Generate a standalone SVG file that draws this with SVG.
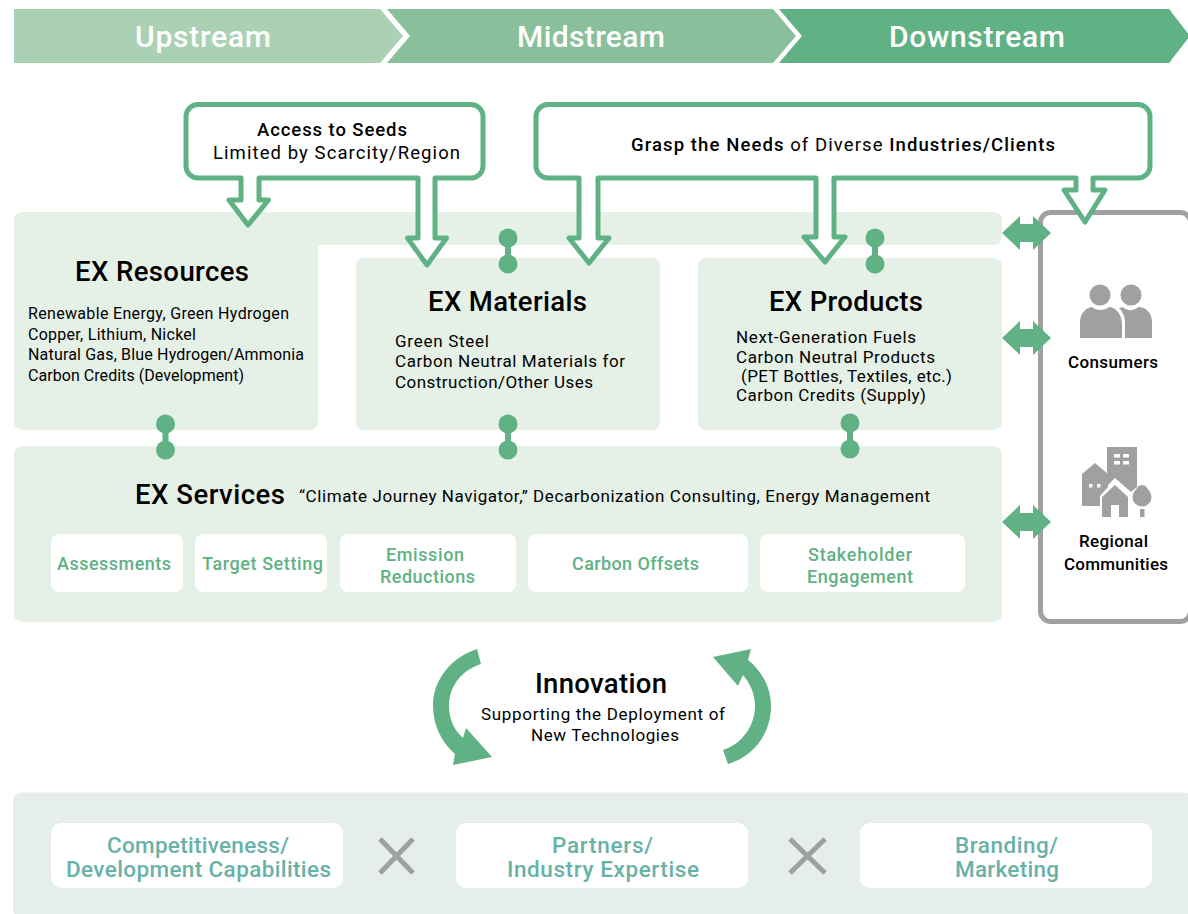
<svg xmlns="http://www.w3.org/2000/svg" width="1188" height="914" viewBox="0 0 1188 914">
<style>
text{font-family:"Roboto","Liberation Sans",sans-serif;fill:#000;font-size:16px}
.c{text-anchor:middle}
.b{font-weight:500}
.m{font-size:17px}
.l{font-size:18.500px}
.ch{fill:#fff;font-size:30px;font-weight:500;text-anchor:middle}
.h{font-size:27.500px;font-weight:500}
.g{fill:#60b184;font-size:18px;font-weight:500;text-anchor:middle}
.t{fill:#69b1a7;font-size:22.500px;font-weight:500;text-anchor:middle}
.p{fill:#e5f0e7}
.w{fill:#fff}
.co{fill:#fff;stroke:#60b184;stroke-width:5;stroke-linejoin:round}
.d{fill:#60b184;stroke:none}
.gr{fill:#9fa0a0}
</style>
<g id="chevrons">
<path fill="#abd1b5" d="M14 9H380L403 36 380 63H14Z"/>
<path fill="#89c09b" d="M387 9H773L796 36 773 63H387L410 36Z"/>
<path fill="#60b184" d="M779 9H1169L1190 36 1169 63H779L802 36Z"/>
<text class="ch" x="203" y="46.500" textLength="136">Upstream</text>
<text class="ch" x="591" y="46.500" textLength="148">Midstream</text>
<text class="ch" x="977" y="46.500" textLength="176">Downstream</text>
</g>
<g id="panels">
<path class="p" d="M22 212H994a8 8 0 0 1 8 8V237a8 8 0 0 1-8 8H318V422a8 8 0 0 1-8 8H22a8 8 0 0 1-8-8V220a8 8 0 0 1 8-8Z"/>
<rect class="p" x="356" y="258" width="304" height="172" rx="8"/>
<rect class="p" x="698" y="258" width="304" height="172" rx="8"/>
<rect class="p" x="14" y="446" width="988" height="176" rx="8"/>
</g>
<g id="ex-resources">
<text class="h c" x="162" y="280.500" textLength="174">EX Resources</text>
<text x="28" y="319" textLength="261">Renewable Energy, Green Hydrogen</text>
<text x="28" y="340" textLength="168">Copper, Lithium, Nickel</text>
<text x="28" y="360" textLength="276">Natural Gas, Blue Hydrogen/Ammonia</text>
<text x="28" y="381" textLength="216">Carbon Credits (Development)</text>
</g>
<g id="ex-materials">
<text class="h c" x="507.500" y="310.500" textLength="159">EX Materials</text>
<text class="m" x="395" y="347" textLength="94">Green Steel</text>
<text class="m" x="395" y="367" textLength="230">Carbon Neutral Materials for</text>
<text class="m" x="395" y="388" textLength="198">Construction/Other Uses</text>
</g>
<g id="ex-products">
<text class="h c" x="846" y="310.500" textLength="154">EX Products</text>
<text class="m" x="736" y="343" textLength="180">Next-Generation Fuels</text>
<text class="m" x="736" y="363" textLength="199">Carbon Neutral Products</text>
<text class="m" x="741" y="382" textLength="211">(PET Bottles, Textiles, etc.)</text>
<text class="m" x="736" y="401" textLength="190">Carbon Credits (Supply)</text>
</g>
<g id="ex-services">
<text class="h" x="135" y="503.500" textLength="150">EX Services</text>
<text class="m" x="299" y="502" textLength="631">“Climate Journey Navigator,” Decarbonization Consulting, Energy Management</text>
<rect class="w" x="51" y="534" width="132" height="58" rx="8"/>
<rect class="w" x="195" y="534" width="132" height="58" rx="8"/>
<rect class="w" x="340" y="534" width="176" height="58" rx="8"/>
<rect class="w" x="528" y="534" width="220" height="58" rx="8"/>
<rect class="w" x="760" y="534" width="205" height="58" rx="8"/>
<text class="g" x="114" y="570" textLength="114">Assessments</text>
<text class="g" x="262.500" y="570" textLength="121">Target Setting</text>
<text class="g" x="425" y="561" textLength="78">Emission</text>
<text class="g" x="427.500" y="583" textLength="95">Reductions</text>
<text class="g" x="635.500" y="570" textLength="127">Carbon Offsets</text>
<text class="g" x="860" y="561" textLength="104">Stakeholder</text>
<text class="g" x="860" y="583" textLength="106">Engagement</text>
</g>
<g id="stakeholders">
<rect x="1040.500" y="212.500" width="150" height="409" rx="10" fill="#fff" stroke="#9fa0a0" stroke-width="5"/>
<g id="consumers">
<circle class="gr" cx="1100" cy="295" r="10.500"/>
<circle class="gr" cx="1131" cy="295" r="10.500"/>
<path class="gr" d="M1080 338V322C1080 312 1088 307 1092 307 1096 311 1105 311 1109 307 1116 307 1122 315 1122 324V338Z"/>
<path class="gr" d="M1125 338V322C1125 316 1122 311 1119 308 1122 307 1123 307 1124 308 1128 311 1134 311 1138 307 1146 307 1152 313 1152 322V338Z"/>
<text class="c b m" x="1113" y="368" textLength="90">Consumers</text>
</g>
<g id="regional-communities">
<path class="gr" d="M1107 447H1137V487L1131 492 1115 478 1108 485 1107 470Z"/>
<path class="gr" d="M1082 506V474L1095 463 1108 474V487L1100 496V506Z"/>
<path class="gr" d="M1102 517V497L1115 485 1128 497V517H1119V505H1111V517Z"/>
<circle class="gr" cx="1142" cy="491" r="6"/>
<circle class="gr" cx="1142" cy="497" r="9.500"/>
<rect class="gr" x="1140" y="509" width="4.500" height="8"/>
<g fill="#fff">
<rect x="1114" y="454" width="6" height="3.500"/><rect x="1123" y="454" width="6" height="3.500"/>
<rect x="1114" y="461" width="6" height="3.500"/><rect x="1123" y="461" width="6" height="3.500"/>
<rect x="1089" y="484" width="3.500" height="3.500"/><rect x="1097" y="484" width="3.500" height="3.500"/>
</g>
<text class="c b m" x="1113.500" y="547" textLength="69">Regional</text>
<text class="c b m" x="1116" y="570" textLength="104">Communities</text>
</g>
</g>
<g id="connectors">
<path class="d" d="M1002 233 1020 216V224H1033V216L1051 233 1033 250V242H1020V250Z"/>
<path class="d" d="M1002 338 1020 321V329H1033V321L1051 338 1033 355V347H1020V355Z"/>
<path class="d" d="M1002 522 1020 505V513H1033V505L1051 522 1033 539V531H1020V539Z"/>
<g class="d">
<circle cx="508" cy="238" r="9.500"/><circle cx="508" cy="264" r="9.500"/><rect x="505" y="238" width="6" height="26"/>
<circle cx="875" cy="238" r="9.500"/><circle cx="875" cy="264" r="9.500"/><rect x="872" y="238" width="6" height="26"/>
<circle cx="165.500" cy="424" r="9.500"/><circle cx="165.500" cy="450" r="9.500"/><rect x="162.500" y="424" width="6" height="26"/>
<circle cx="508" cy="424" r="9.500"/><circle cx="508" cy="450" r="9.500"/><rect x="505" y="424" width="6" height="26"/>
<circle cx="850" cy="423" r="9.500"/><circle cx="850" cy="449" r="9.500"/><rect x="847" y="423" width="6" height="26"/>
</g>
<path class="d" d="M477 649 481 664C462 670 449 686 449 706 449 719 454 730 463 738L466 728 492 757 453 765 455 754C442 743 433 725 433 706 433 679 452 657 477 649Z"/>
<path class="d" d="M728 764 723 750C742 744 755 726 755 706 755 694 750 683 743 675L738 686 713 657 751 649 748 660C762 671 771 688 771 706 771 734 753 757 728 764Z"/>
</g>
<g id="callout-seeds">
<path class="co" d="M198 104.500H471a12 12 0 0 1 12 12V166a12 12 0 0 1-12 12H435V238H446.500L427 265 407.500 238H418V178H259V200H268.500L248 225 229 200H241V178H198a12 12 0 0 1-12-12V116.500a12 12 0 0 1 12-12Z"/>
<text class="c b l" x="332" y="136" textLength="150">Access to Seeds</text>
<text class="c l" x="336.500" y="158.500" textLength="247">Limited by Scarcity/Region</text>
</g>
<g id="callout-needs">
<path class="co" d="M548 104.500H1138a12 12 0 0 1 12 12V166a12 12 0 0 1-12 12H1093V190H1105L1085 222 1064 190H1076V178H834V237H845L825 262 804 237H816V178H598V238H609L589 263 569 238H579V178H548a12 12 0 0 1-12-12V116.500a12 12 0 0 1 12-12Z"/>
<text class="c l" x="843" y="150.500" textLength="424"><tspan class="b">Grasp the Needs</tspan> of Diverse <tspan class="b">Industries/Clients</tspan></text>
</g>
<g id="innovation">
<text class="c b h" x="601" y="692.500" textLength="132">Innovation</text>
<text class="c m" x="603" y="720" textLength="244">Supporting the Deployment of</text>
<text class="c m" x="605" y="741" textLength="148">New Technologies</text>
</g>
<g id="capabilities">
<rect x="13" y="792.500" width="1180" height="125" rx="8" fill="#e5eeec"/>
<rect class="w" x="51" y="823" width="292" height="65" rx="10"/>
<rect class="w" x="456" y="823" width="292" height="65" rx="10"/>
<rect class="w" x="860" y="823" width="292" height="65" rx="10"/>
<text class="t" x="198" y="853" textLength="182">Competitiveness/</text>
<text class="t" x="198.500" y="877" textLength="265">Development Capabilities</text>
<text class="t" x="602.500" y="853" textLength="101">Partners/</text>
<text class="t" x="603" y="877" textLength="192">Industry Expertise</text>
<text class="t" x="1006.500" y="853" textLength="103">Branding/</text>
<text class="t" x="1007" y="877" textLength="104">Marketing</text>
<path d="M380 839 413 873M413 839 380 873M790 839 825 873M825 839 790 873" fill="none" stroke="#9fa0a0" stroke-width="5"/>
</g>
</svg>
